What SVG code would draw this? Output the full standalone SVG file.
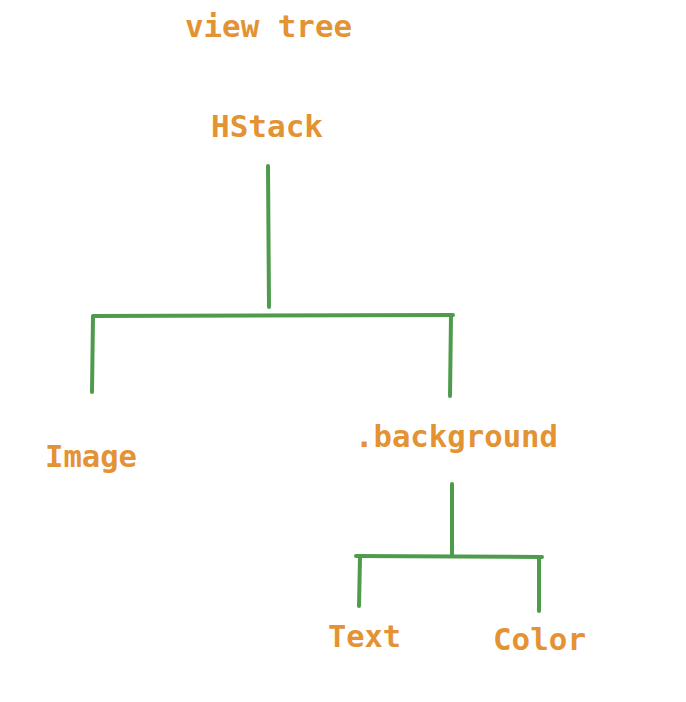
<svg xmlns="http://www.w3.org/2000/svg" width="686" height="702" viewBox="0 0 686 702">
<style>
.t{font-family:"DejaVu Sans Mono","Liberation Mono",monospace;font-weight:bold;font-size:30px;fill:#e39234}
.c{stroke:#4e9b4e;stroke-width:4;fill:none;stroke-linecap:round;stroke-linejoin:round}
</style>
<rect width="686" height="702" fill="#ffffff"/>
<g id="title"><text class="t" x="185" y="37" textLength="167" lengthAdjust="spacingAndGlyphs">view tree</text></g>
<g id="hstack"><text class="t" x="211" y="137" textLength="112" lengthAdjust="spacingAndGlyphs">HStack</text></g>
<g id="image"><text class="t" x="45" y="467" textLength="92" lengthAdjust="spacingAndGlyphs">Image</text></g>
<g id="background"><text class="t" x="355" y="447" textLength="203" lengthAdjust="spacingAndGlyphs">.background</text></g>
<g id="text"><text class="t" x="328" y="647" textLength="73" lengthAdjust="spacingAndGlyphs">Text</text></g>
<g id="color"><text class="t" x="493" y="650" textLength="93" lengthAdjust="spacingAndGlyphs">Color</text></g>
<g id="connectors">
<path class="c" d="M268 166 L269 307"/>
<path class="c" d="M92 392 L93 316 L453 315"/>
<path class="c" d="M451 316 L450 396"/>
<path class="c" d="M452 484 L452 555"/>
<path class="c" d="M356 556 L542 557"/>
<path class="c" d="M360 557 L359 606"/>
<path class="c" d="M539 557 L539 611"/>
</g>
</svg>
